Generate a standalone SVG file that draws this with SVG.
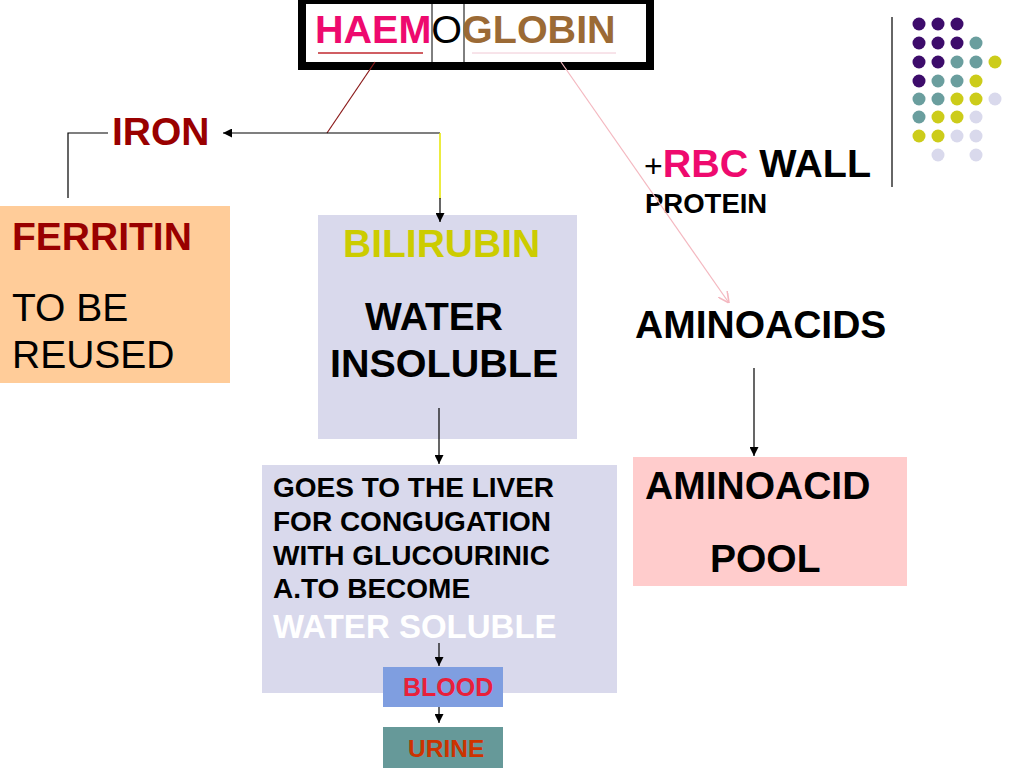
<svg xmlns="http://www.w3.org/2000/svg" width="1024" height="768" viewBox="0 0 1024 768">
<style>
text{font-family:"Liberation Sans",Arial,Helvetica,sans-serif;font-weight:bold;}
.reg{font-weight:normal;}
.c{fill:none;stroke:#000;stroke-width:1.2;}
.pu{fill:#3d0c6b;}.te{fill:#6a9e9e;}.ye{fill:#cccc1a;}.la{fill:#d9d9ec;}
</style>
<defs>
<marker id="ah" viewBox="0 0 10 10" refX="10" refY="5" markerUnits="userSpaceOnUse" markerWidth="9" markerHeight="9" orient="auto">
<path d="M0,0 L10,5 L0,10 z" fill="#000"/>
</marker>
<marker id="ahp" viewBox="0 0 10 10" refX="10" refY="5" markerUnits="userSpaceOnUse" markerWidth="11" markerHeight="11" orient="auto">
<path d="M0,0 L10,5 L0,10" fill="none" stroke="#f4b8c0" stroke-width="1.5"/>
</marker>
</defs>
<rect width="1024" height="768" fill="#fff"/>

<g id="decor">
<line x1="892" y1="17" x2="892" y2="187" stroke="#333" stroke-width="1.5"/>
<circle class="pu" cx="919" cy="24" r="6.5"/><circle class="pu" cx="938" cy="24" r="6.5"/><circle class="pu" cx="957" cy="24" r="6.5"/>
<circle class="pu" cx="919" cy="43" r="6.5"/><circle class="pu" cx="938" cy="43" r="6.5"/><circle class="pu" cx="957" cy="43" r="6.5"/><circle class="te" cx="976" cy="43" r="6.5"/>
<circle class="pu" cx="919" cy="62" r="6.5"/><circle class="pu" cx="938" cy="62" r="6.5"/><circle class="te" cx="957" cy="62" r="6.5"/><circle class="te" cx="976" cy="62" r="6.5"/><circle class="ye" cx="995" cy="62" r="6.5"/>
<circle class="pu" cx="919" cy="81" r="6.5"/><circle class="te" cx="938" cy="81" r="6.5"/><circle class="te" cx="957" cy="81" r="6.5"/><circle class="ye" cx="976" cy="81" r="6.5"/>
<circle class="te" cx="919" cy="99" r="6.5"/><circle class="te" cx="938" cy="99" r="6.5"/><circle class="ye" cx="957" cy="99" r="6.5"/><circle class="ye" cx="976" cy="99" r="6.5"/><circle class="la" cx="995" cy="99" r="6.5"/>
<circle class="te" cx="919" cy="117" r="6.5"/><circle class="ye" cx="938" cy="117" r="6.5"/><circle class="ye" cx="957" cy="117" r="6.5"/><circle class="la" cx="976" cy="117" r="6.5"/>
<circle class="ye" cx="919" cy="136" r="6.5"/><circle class="ye" cx="938" cy="136" r="6.5"/><circle class="la" cx="957" cy="136" r="6.5"/><circle class="la" cx="976" cy="136" r="6.5"/>
<circle class="la" cx="938" cy="155" r="6.5"/><circle class="la" cx="976" cy="155" r="6.5"/>
</g>

<g id="haemoglobin">
<rect x="302" y="0" width="348" height="66" fill="#fff" stroke="#000" stroke-width="8"/>
<line x1="432" y1="4" x2="432" y2="62" stroke="#000" stroke-width="1"/>
<line x1="464" y1="4" x2="464" y2="62" stroke="#000" stroke-width="1"/>
<text x="315" y="43" font-size="39.5"><tspan fill="#ee0a6e">HAEM</tspan><tspan fill="#000" font-weight="normal">O</tspan><tspan fill="#9b6a35">GLOBIN</tspan></text>
<line x1="318" y1="53" x2="423" y2="53" stroke="#c0282f" stroke-width="1.5"/>
<line x1="472" y1="53" x2="616" y2="53" stroke="#f0c8d4" stroke-width="1"/>
</g>

<g id="iron">
<text x="112" y="145" font-size="39" fill="#990000">IRON</text>
</g>

<g id="ferritin">
<rect x="0" y="206" width="230" height="177" fill="#ffcc99"/>
<text x="12" y="250" font-size="39" fill="#990000">FERRITIN</text>
<text class="reg" x="12" y="321" font-size="39" fill="#000">TO BE</text>
<text class="reg" x="12" y="368" font-size="39" fill="#000">REUSED</text>
</g>

<g id="bilirubin">
<rect x="318" y="215" width="259" height="224" fill="#d9d9ec"/>
<text x="343" y="257" font-size="39" fill="#cccc00">BILIRUBIN</text>
<text x="365" y="330" font-size="39" fill="#000">WATER</text>
<text x="330" y="377" font-size="39.5" fill="#000">INSOLUBLE</text>
</g>

<g id="liver">
<rect x="262" y="465" width="355" height="228" fill="#d9d9ec"/>
<text x="273" y="497" font-size="28" fill="#000">GOES TO THE LIVER</text>
<text x="273" y="531" font-size="28" fill="#000">FOR CONGUGATION</text>
<text x="273" y="565" font-size="28" fill="#000">WITH GLUCOURINIC</text>
<text x="273" y="598" font-size="28" fill="#000">A.TO BECOME</text>
<text x="273" y="638" font-size="33" fill="#fff">WATER SOLUBLE</text>
</g>

<g id="blood">
<rect x="383" y="667" width="120" height="40" fill="#7f9ee0"/>
<text x="403" y="696" font-size="25" fill="#e8203a">BLOOD</text>
</g>

<g id="urine">
<rect x="383" y="727" width="120" height="41" fill="#669999"/>
<text x="408" y="757" font-size="24.5" fill="#cc3300">URINE</text>
</g>

<g id="rbc">
<text x="644" y="177" font-size="39.5" fill="#000"><tspan font-weight="normal" font-size="32">+</tspan><tspan fill="#ee0a6e">RBC</tspan> WALL</text>
<text x="645" y="213" font-size="27.5" fill="#000">PROTEIN</text>
</g>

<g id="aminoacids">
<text x="635" y="338" font-size="39" fill="#000">AMINOACIDS</text>
</g>

<g id="pool">
<rect x="633" y="457" width="274" height="129" fill="#ffcccc"/>
<text x="645" y="499" font-size="39" fill="#000">AMINOACID</text>
<text x="710" y="572" font-size="39" fill="#000">POOL</text>
</g>

<g id="connectors">
<line x1="375" y1="62" x2="327" y2="133" stroke="#8b1a1a" stroke-width="1.2"/>
<line class="c" x1="440" y1="133" x2="223" y2="133" marker-end="url(#ah)"/>
<line x1="440" y1="133" x2="440" y2="199" stroke="#e6e600" stroke-width="1.5"/>
<line class="c" x1="440" y1="198" x2="440" y2="222" marker-end="url(#ah)"/>
<polyline class="c" points="108,133 68,133 68,198"/>
<line class="c" x1="439" y1="408" x2="439" y2="464" marker-end="url(#ah)"/>
<line class="c" x1="439" y1="643" x2="439" y2="666" marker-end="url(#ah)"/>
<line class="c" x1="439" y1="707" x2="439" y2="723" marker-end="url(#ah)"/>
<line x1="561" y1="62" x2="729" y2="303" stroke="#f4b8c0" stroke-width="1.2" marker-end="url(#ahp)"/>
<line class="c" x1="754" y1="368" x2="754" y2="456" marker-end="url(#ah)"/>
</g>
</svg>
